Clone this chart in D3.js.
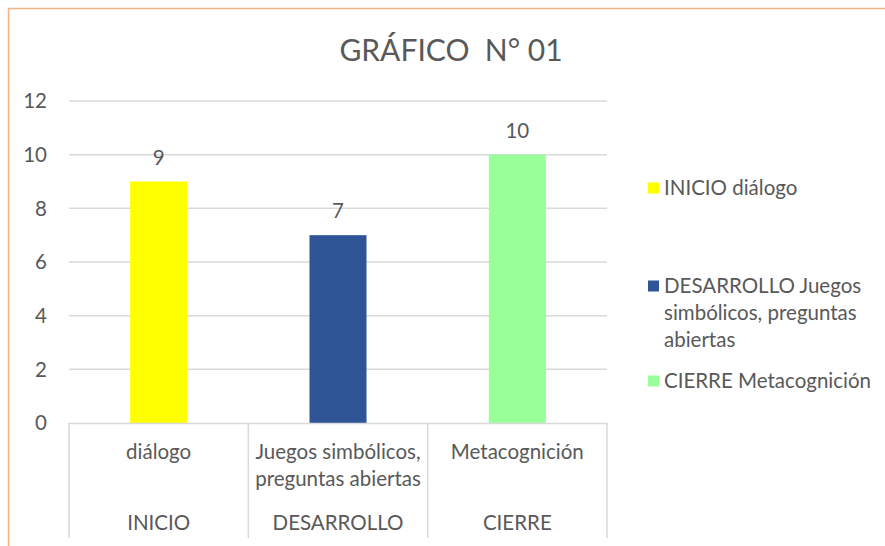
<!DOCTYPE html>
<html>
<head>
<meta charset="utf-8">
<script src="https://cdn.jsdelivr.net/npm/d3@7"></script>
<style>
  body { margin: 0; background: #fff; }
  svg text { font-family: Lato, "Open Sans", sans-serif; fill: #595959; }
</style>
</head>
<body>
<div id="chart"></div>
<script>
// datos del grafico
var grupos = ["INICIO", "DESARROLLO", "CIERRE"];
var subcategorias = [["diálogo"], ["Juegos simbólicos,", "preguntas abiertas"], ["Metacognición"]];
var valores = [9, 7, 10];
var colores = ["#ffff00", "#2f5597", "#99ff99"];
var leyenda = [["INICIO diálogo"], ["DESARROLLO Juegos", "simbólicos, preguntas", "abiertas"], ["CIERRE Metacognición"]];
var ticksY = [0, 2, 4, 6, 8, 10, 12];
var titulo = "GRÁFICO  N° 01";

var W = 885, H = 546;
var pLeft = 69, pRight = 607, pTop = 101, pBottom = 423;
var fs = "20.5px";

var svg = d3.select("#chart").append("svg")
    .attr("width", W)
    .attr("height", H);

// borde del area del grafico
svg.append("path")
    .attr("d", "M8.5," + H + "V8.5H" + W)
    .attr("fill", "none")
    .attr("stroke", "#f4b183")
    .attr("stroke-width", 1.5);

var y = d3.scaleLinear().domain([0, 12]).range([pBottom, pTop]);
var x = d3.scaleBand().domain(grupos).range([pLeft, pRight]).padding(0);
var barW = 57;

// lineas de cuadricula
svg.selectAll(".grid")
    .data(ticksY.slice(1))
    .enter()
    .append("line")
    .attr("x1", pLeft).attr("x2", pRight)
    .attr("y1", function(d){ return y(d); })
    .attr("y2", function(d){ return y(d); })
    .attr("stroke", "#d9d9d9")
    .attr("stroke-width", 1.5);

// etiquetas eje y
svg.selectAll(".ytick")
    .data(ticksY)
    .enter()
    .append("text")
    .attr("x", 47)
    .attr("y", function(d){ return y(d); })
    .attr("dy", "0.35em")
    .attr("text-anchor", "end")
    .style("font-size", fs)
    .text(function(d){ return d; });

// barras
svg.selectAll(".bar")
    .data(valores)
    .enter()
    .append("rect")
    .attr("x", function(d, i){ return x(grupos[i]) + x.bandwidth() / 2 - barW / 2; })
    .attr("y", function(d){ return y(d); })
    .attr("width", barW)
    .attr("height", function(d){ return y(0) - y(d); })
    .attr("fill", function(d, i){ return colores[i]; });

// etiquetas de valores
svg.selectAll(".val")
    .data(valores)
    .enter()
    .append("text")
    .attr("x", function(d, i){ return x(grupos[i]) + x.bandwidth() / 2; })
    .attr("y", function(d){ return y(d) - 24; })
    .attr("dy", "0.35em")
    .attr("text-anchor", "middle")
    .style("font-size", fs)
    .text(function(d){ return d; });

// eje x multinivel
svg.append("line")
    .attr("x1", pLeft).attr("x2", pRight)
    .attr("y1", pBottom + 0.5).attr("y2", pBottom + 0.5)
    .attr("stroke", "#d9d9d9").attr("stroke-width", 1.5);

var limites = grupos.map(function(g){ return x(g); }).concat([pRight]);
svg.selectAll(".sep")
    .data(limites)
    .enter()
    .append("line")
    .attr("x1", function(d){ return d; })
    .attr("x2", function(d){ return d; })
    .attr("y1", pBottom)
    .attr("y2", 538)
    .attr("stroke", "#d9d9d9")
    .attr("stroke-width", 1.5);

svg.selectAll(".sub")
    .data(subcategorias)
    .enter()
    .append("text")
    .attr("x", function(d, i){ return x(grupos[i]) + x.bandwidth() / 2; })
    .attr("y", 452)
    .attr("text-anchor", "middle")
    .style("font-size", fs)
    .each(function(d){
        var t = d3.select(this);
        d.forEach(function(linea, k){
            t.append("tspan")
                .attr("x", t.attr("x"))
                .attr("y", 452 + k * 27)
                .attr("dy", "0.35em")
                .text(linea);
        });
    });

svg.selectAll(".grp")
    .data(grupos)
    .enter()
    .append("text")
    .attr("x", function(d){ return x(d) + x.bandwidth() / 2; })
    .attr("y", 523)
    .attr("dy", "0.35em")
    .attr("text-anchor", "middle")
    .style("font-size", fs)
    .text(function(d){ return d; });

// titulo
svg.append("text")
    .attr("x", 451)
    .attr("y", 61)
    .attr("text-anchor", "middle")
    .style("font-size", "30px")
    .style("white-space", "pre")
    .text(titulo);

// leyenda
var legY = [188, 286, 381];
var leg = svg.selectAll(".leg")
    .data(leyenda)
    .enter()
    .append("g")
    .attr("transform", function(d, i){ return "translate(648," + legY[i] + ")"; });

leg.append("rect")
    .attr("x", 0).attr("y", -5.5)
    .attr("width", 11).attr("height", 11)
    .attr("fill", function(d, i){ return colores[i]; });

leg.append("text")
    .style("font-size", fs)
    .each(function(d){
        var t = d3.select(this);
        d.forEach(function(linea, k){
            t.append("tspan")
                .attr("x", 16)
                .attr("y", k * 27)
                .attr("dy", "0.35em")
                .text(linea);
        });
    });
</script>
</body>
</html>
